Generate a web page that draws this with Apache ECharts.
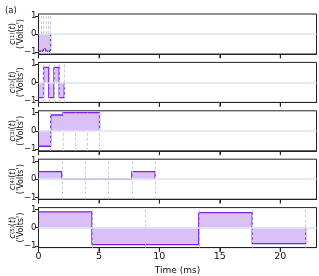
<!DOCTYPE html>
<html><head><meta charset="utf-8">
<script src="https://cdn.jsdelivr.net/npm/echarts@6/dist/echarts.min.js"></script>
<style>html,body{margin:0;padding:0;background:#fff}#c{width:319px;height:276px}</style>
</head><body><div id="c"></div>
<script>
// ---- data ----
const xTicks = [0, 5, 10, 15, 20];
const yTicks = [-1, 0, 1];
const xLabel = 'Time (ms)';
const title = '(a)';
const edges1 = [0, 0.2, 0.4, 0.6, 0.8, 1.0];
const c1 = [-0.95, -0.95, -0.82, -0.95, -0.95];
const edges2 = [0, 0.42, 0.85, 1.28, 1.71, 2.13];
const c2 = [-0.84, 0.83, -0.84, 0.83, -0.84];
const edges3 = [0, 1.01, 2.02, 3.03, 4.04, 5.05];
const c3 = [-0.85, 0.87, 1.0, 1.0, 1.0];
const edges4 = [0, 1.93, 3.86, 5.79, 7.72, 9.65];
const c4 = [0.42, 0, 0, 0, 0.42];
const edges5 = [0, 4.42, 8.84, 13.26, 17.68, 22.1];
const c5 = [0.86, -0.94, -0.94, 0.82, -0.88];
const chanIds = ['1', '2', '3', '4', '5'];

const channels = [[edges1, c1], [edges2, c2], [edges3, c3], [edges4, c4], [edges5, c5]];

// ---- layout / style ----
const LINE = '#7f22e6';
const FILL = 'rgba(128,40,225,0.42)';
const FONT = 'DejaVu Sans';
const Y_MIN = -1.1, Y_MAX = 1.1;
const gridLeft = 38.5, gridW = 278, gridTop0 = 14, gridStep = 48.4, gridH = 40;

const grids = [], xAxes = [], yAxes = [], series = [];
channels.forEach(([edges, vals], k) => {
  const last = k === channels.length - 1;
  grids.push({left: gridLeft, width: gridW, top: gridTop0 + k * gridStep, height: gridH,
    outerBoundsMode: 'none', containLabel: false,
    show: true, borderColor: '#222', borderWidth: 1, backgroundColor: 'transparent'});
  xAxes.push({type: 'value', gridIndex: k, min: 0, max: 23, interval: 5, position: 'bottom',
    axisLine: {show: true, onZero: false, lineStyle: {color: '#222', width: 1}},
    axisTick: {show: true, inside: false, length: 4, lineStyle: {color: '#222', width: 1}},
    axisLabel: {show: true, fontFamily: FONT, fontSize: 9.5, color: last ? '#111' : 'rgba(0,0,0,0)', margin: 4,
      showMaxLabel: false},
    splitLine: {show: false},
    name: last ? xLabel : '', nameLocation: 'middle', nameGap: 19, nameMoveOverlap: false,
    nameTextStyle: {fontFamily: FONT, fontSize: 9, color: '#111'}});
  yAxes.push({type: 'value', gridIndex: k, min: Y_MIN, max: Y_MAX, position: 'left',
    axisLine: {show: true, onZero: false, lineStyle: {color: '#222', width: 1}},
    axisTick: {show: true, inside: false, length: 3.5, customValues: yTicks, lineStyle: {color: '#222', width: 1}},
    axisLabel: {customValues: yTicks, fontFamily: FONT, fontSize: 8.5, color: '#111', margin: 2,
      formatter: v => String(v).replace('-', '\u2212')},
    splitLine: {show: false},
    name: '{i|c}{s|(' + chanIds[k] + ')}({i|t})\n(\'Volts\')',
    nameLocation: 'middle', nameRotate: 90, nameGap: 14, nameMoveOverlap: false,
    nameTextStyle: {fontFamily: FONT, fontSize: 8, color: '#111', lineHeight: 7.5,
      rich: {i: {fontFamily: FONT, fontSize: 8, fontStyle: 'italic', color: '#111', lineHeight: 7.5},
             s: {fontFamily: FONT, fontSize: 5.5, color: '#111', verticalAlign: 'top', lineHeight: 7.5, padding: [0, 0, 3, 0]}}}});
  const pts = vals.map((v, i) => [edges[i], v]);
  pts.push([edges[edges.length - 1], 0]);
  const ml = edges.slice(1).map(t => ({xAxis: t, lineStyle: {type: [3, 2], color: '#c9ced8', width: 1}}));
  ml.push({yAxis: 0, lineStyle: {type: 'solid', color: '#dde3ee', width: 1.5}});
  series.push({type: 'line', xAxisIndex: k, yAxisIndex: k, data: pts, step: 'end',
    showSymbol: false, symbol: 'none', silent: true, animation: false,
    lineStyle: {color: LINE, width: 1.3}, areaStyle: {color: FILL, origin: 0},
    markLine: {silent: true, symbol: ['none', 'none'], label: {show: false}, animation: false, data: ml}});
  // outward x ticks below each panel (placed through the axis scale)
  series.push({type: 'scatter', xAxisIndex: k, yAxisIndex: k, clip: false, silent: true, animation: false,
    data: xTicks.map(t => [t, Y_MIN]), symbol: 'rect', symbolSize: [1, 4], symbolOffset: [0, 2.5],
    itemStyle: {color: '#222'}, z: 5});
});

const chart = echarts.init(document.getElementById('c'), null, {renderer: 'canvas'});
chart.setOption({
  animation: false,
  title: {text: title, left: 0, top: 1, textStyle: {fontFamily: FONT, fontSize: 8.5, fontWeight: 'normal', color: '#111'}},
  grid: grids, xAxis: xAxes, yAxis: yAxes, series: series
});
</script></body></html>
